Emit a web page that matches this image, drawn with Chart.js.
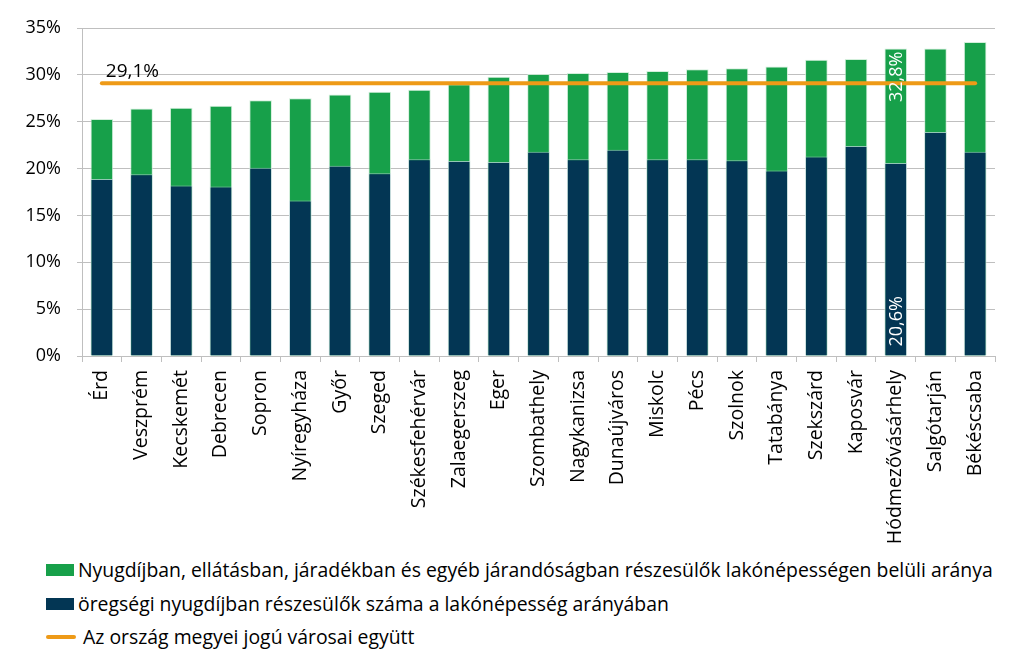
<!DOCTYPE html>
<html>
<head>
<meta charset="utf-8">
<script src="https://cdn.jsdelivr.net/npm/chart.js@4.4.1/dist/chart.umd.min.js"></script>
<style>
  html, body { margin: 0; padding: 0; background: #fff; }
  #wrap { position: relative; width: 1023px; height: 668px; font-family: "Open Sans", sans-serif; }
  #c { position: absolute; left: 0; top: 0; }
  .leg { position: absolute; left: 46px; height: 26px; font-size: 19.4px; line-height: 26px; color: #000; white-space: nowrap; display: flex; align-items: center; }
  .sw { display: inline-block; width: 28px; height: 12px; margin-right: 4px; }
  .ln { display: inline-block; width: 30px; height: 4px; border-radius: 2px; margin-right: 7px; }
</style>
</head>
<body>
<div id="wrap">
  <canvas id="c" width="1023" height="545"></canvas>
  <div id="legend"></div>
</div>
<script>
const categories = ["Érd","Veszprém","Kecskemét","Debrecen","Sopron","Nyíregyháza","Győr","Szeged","Székesfehérvár","Zalaegerszeg","Eger","Szombathely","Nagykanizsa","Dunaújváros","Miskolc","Pécs","Szolnok","Tatabánya","Szekszárd","Kaposvár","Hódmezővásárhely","Salgótarján","Békéscsaba"];
const totalShare = [25.3,26.4,26.5,26.7,27.3,27.5,27.9,28.2,28.4,29.0,29.8,30.1,30.2,30.3,30.4,30.6,30.7,30.9,31.6,31.7,32.8,32.8,33.5];
const oldAgeShare = [18.9,19.4,18.2,18.1,20.1,16.6,20.3,19.5,21.0,20.8,20.7,21.8,21.0,22.0,21.0,21.0,20.9,19.8,21.3,22.4,20.6,23.9,21.8];
const countyCitiesAvg = 29.1;
const yTicks = [0,5,10,15,20,25,30,35];
const seriesNames = [
  "Nyugdíjban, ellátásban, járadékban és egyéb járandóságban részesülők lakónépességen belüli aránya",
  "öregségi nyugdíjban részesülők száma a lakónépesség arányában",
  "Az ország megyei jogú városai együtt"
];
const labelledCity = "Hódmezővásárhely";

const GREEN = "#17A04A", NAVY = "#033654", ORANGE = "#EE9A17";
const FONT = "Open Sans";
const fmt = v => v.toFixed(1).replace(".", ",") + "%";

const labelsPlugin = {
  id: "valueLabels",
  afterDatasetsDraw(chart) {
    const ctx = chart.ctx;
    const idx = categories.indexOf(labelledCity);
    const greenMeta = chart.getDatasetMeta(2);
    const navyMeta = chart.getDatasetMeta(1);
    const lineMeta = chart.getDatasetMeta(0);
    ctx.save();
    ctx.font = "18px '" + FONT + "'";
    const gEl = greenMeta.data[idx];
    ctx.save();
    ctx.translate(gEl.x, gEl.y + 3);
    ctx.rotate(-Math.PI / 2);
    ctx.fillStyle = "#fff";
    ctx.textAlign = "right";
    ctx.textBaseline = "middle";
    ctx.fillText(fmt(totalShare[idx]), 0, 1);
    ctx.restore();
    const nEl = navyMeta.data[idx];
    ctx.save();
    ctx.translate(nEl.x, nEl.base - 9);
    ctx.rotate(-Math.PI / 2);
    ctx.fillStyle = "#fff";
    ctx.textAlign = "left";
    ctx.textBaseline = "middle";
    ctx.fillText(fmt(oldAgeShare[idx]), 0, 1);
    ctx.restore();
    const p = lineMeta.data[0];
    ctx.font = "19px '" + FONT + "'";
    ctx.fillStyle = "#000";
    ctx.textAlign = "left";
    ctx.textBaseline = "middle";
    ctx.fillText(fmt(countyCitiesAvg), p.x + 4, p.y - 12);
    ctx.restore();
  }
};

new Chart(document.getElementById("c"), {
  type: "bar",
  data: {
    labels: categories,
    datasets: [
      { type: "line", label: seriesNames[2], data: categories.map(() => countyCitiesAvg),
        borderColor: ORANGE, borderWidth: 4, pointRadius: 0, borderCapStyle: "round", order: 0 },
      { label: seriesNames[1], data: oldAgeShare, backgroundColor: NAVY,
        borderColor: "rgba(200,215,225,0.7)", borderWidth: 1, order: 1,
        categoryPercentage: 1, barPercentage: 0.57 },
      { label: seriesNames[0], data: totalShare, backgroundColor: GREEN,
        borderColor: "rgba(200,235,210,0.8)", borderWidth: 1, order: 2,
        categoryPercentage: 1, barPercentage: 0.57 }
    ]
  },
  options: {
    responsive: false,
    animation: false,
    layout: { padding: { top: 28, right: 28, left: 0, bottom: 0 } },
    plugins: { legend: { display: false }, tooltip: { enabled: false } },
    scales: {
      x: {
        stacked: true,
        grid: { offset: true, drawOnChartArea: false, tickLength: 6, color: "#BFBFBF" },
        border: { color: "#BFBFBF" },
        ticks: { minRotation: 90, maxRotation: 90, autoSkip: false, padding: 8,
          color: "#000", font: { family: FONT, size: 19.5 } },
        afterFit: s => { s.height = 545 - 356; }
      },
      y: {
        stacked: false,
        min: 0, max: 35,
        afterBuildTicks: s => { s.ticks = yTicks.map(v => ({ value: v })); },
        grid: { color: "#BFBFBF", tickLength: 5 },
        border: { color: "#BFBFBF" },
        ticks: { padding: 16, color: "#000", font: { family: FONT, size: 18 },
          callback: v => v + "%" },
        afterFit: s => { s.width = 82; }
      }
    }
  },
  plugins: [labelsPlugin]
});

const legend = document.getElementById("legend");
const legItems = [
  { text: seriesNames[0], kind: "sw", color: GREEN, top: 557 },
  { text: seriesNames[1], kind: "sw", color: NAVY, top: 591 },
  { text: seriesNames[2], kind: "ln", color: ORANGE, top: 624 }
];
legItems.forEach(it => {
  const d = document.createElement("div");
  d.className = "leg";
  d.style.top = it.top + "px";
  const m = document.createElement("span");
  m.className = it.kind;
  m.style.background = it.color;
  d.appendChild(m);
  d.appendChild(document.createTextNode(it.text));
  legend.appendChild(d);
});
</script>
</body>
</html>
